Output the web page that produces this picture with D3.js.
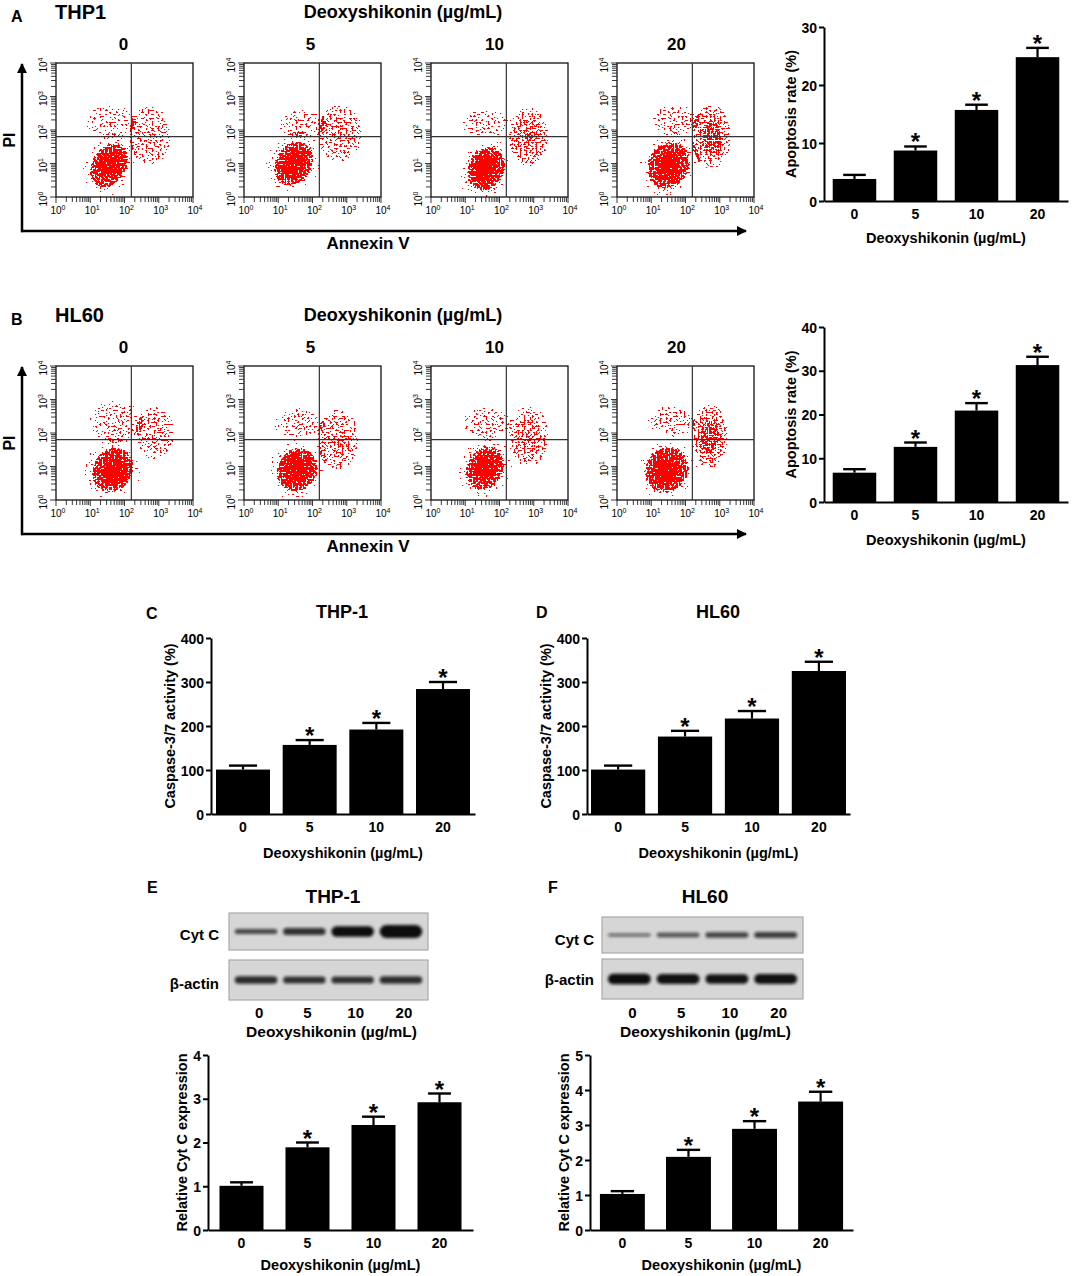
<!DOCTYPE html>
<html>
<head>
<meta charset="utf-8">
<script src="https://cdn.jsdelivr.net/npm/d3@7"></script>
<style>
  body { margin: 0; background: #fff; }
  svg text { font-family: "Liberation Sans", Arial, sans-serif; font-weight: bold; fill: #000; }
</style>
</head>
<body>
<svg id="fig" width="1072" height="1276"></svg>
<script>
// ---- data ----
const doses = ['0', '5', '10', '20']

// apoptosis rate (%) - panels A/B
const thpApop = [3.8, 8.7, 15.7, 24.8]
const thpApopErr = [4.5, 9.4, 16.6, 26.4]
const hlApop = [6.7, 12.6, 20.9, 31.3]
const hlApopErr = [7.5, 13.6, 22.6, 33.2]

// caspase-3/7 activity (%) - panels C/D
const thpCasp = [101, 157, 192, 284]
const thpCaspErr = [110, 168, 207, 300]
const hlCasp = [101, 176, 217, 325]
const hlCaspErr = [110, 189, 234, 346]

// relative Cyt C expression - panels E/F
const thpCyt = [1.01, 1.89, 2.40, 2.92]
const thpCytErr = [1.09, 2.00, 2.59, 3.12]
const hlCyt = [1.03, 2.09, 2.89, 3.67]
const hlCytErr = [1.11, 2.29, 3.11, 3.95]

// western blot band strength (relative)
const thpCytBand = [0.40, 0.55, 0.80, 1.00]
const thpActinBand = [0.58, 0.55, 0.55, 0.57]
const hlCytBand = [0.22, 0.33, 0.42, 0.46]
const hlActinBand = [0.80, 0.76, 0.74, 0.76]

// flow cytometry populations: [log Annexin V, log PI, spread x, spread y, tilt, density]
// rows: live cells, live core, live halo, upper-left population, upper-right apoptotic population
const thpFlow0 = [[1.55, 0.95, 0.5, 0.72, 30, 1.0], [1.6, 1.0, 0.3, 0.42, 30, 0.8], [1.55, 0.95, 0.8, 1.0, 30, 0.5],
  [1.6, 2.25, 0.75, 0.5, 0, 0.57], [2.75, 1.85, 0.62, 0.9, 0, 0.63]]
const thpFlow5 = [[1.45, 1.0, 0.53, 0.7, 30, 1.0], [1.5, 1.0, 0.3, 0.42, 30, 0.8], [1.45, 1.0, 0.82, 0.98, 30, 0.5],
  [1.7, 2.2, 0.7, 0.45, 0, 0.58], [2.8, 1.9, 0.66, 0.85, 0, 0.67]]
const thpFlow10 = [[1.6, 0.85, 0.53, 0.68, 22, 1.0], [1.6, 0.85, 0.3, 0.4, 22, 0.8], [1.6, 0.85, 0.82, 0.96, 22, 0.5],
  [1.6, 2.2, 0.75, 0.4, 0, 0.58], [2.85, 1.8, 0.58, 0.88, 0, 0.71]]
const thpFlow20 = [[1.5, 0.95, 0.6, 0.73, 30, 1.0], [1.5, 0.95, 0.32, 0.42, 30, 0.8], [1.5, 0.95, 0.9, 1.02, 30, 0.5],
  [1.7, 2.3, 0.7, 0.45, 0, 0.59], [2.75, 1.8, 0.58, 0.96, 0, 0.73]]
const hlFlow0 = [[1.65, 0.9, 0.58, 0.7, 30, 1.0], [1.65, 0.85, 0.32, 0.42, 30, 0.8], [1.65, 0.9, 0.88, 0.98, 30, 0.5],
  [1.75, 2.35, 0.8, 0.65, 0, 0.56], [2.9, 2.0, 0.58, 0.8, 0, 0.63]]
const hlFlow5 = [[1.55, 0.9, 0.58, 0.67, 30, 1.0], [1.55, 0.9, 0.32, 0.4, 30, 0.8], [1.55, 0.9, 0.88, 0.95, 30, 0.5],
  [1.6, 2.3, 0.75, 0.45, 0, 0.58], [2.75, 1.8, 0.62, 0.9, 0, 0.67]]
const hlFlow10 = [[1.58, 0.95, 0.53, 0.68, 25, 1.0], [1.58, 0.9, 0.3, 0.4, 25, 0.8], [1.58, 0.95, 0.82, 0.96, 25, 0.5],
  [1.6, 2.3, 0.75, 0.48, 0, 0.58], [2.85, 1.9, 0.6, 0.9, 0, 0.69]]
const hlFlow20 = [[1.45, 0.9, 0.62, 0.7, 30, 1.0], [1.45, 0.85, 0.34, 0.4, 30, 0.8], [1.45, 0.9, 0.92, 0.98, 30, 0.5],
  [1.6, 2.35, 0.7, 0.48, 0, 0.59], [2.7, 1.9, 0.54, 0.96, 0, 0.73]]

const gateAnnexin = 2.2, gatePI = 1.8

const svg = d3.select('#fig')
const defs = svg.append('defs')

// speckle filter: turns a density field into scattered red events
const sp = defs.append('filter').attr('id', 'speck')
  .attr('filterUnits', 'userSpaceOnUse')
  .attr('x', 0).attr('y', 0).attr('width', 1072).attr('height', 1276)
  .attr('color-interpolation-filters', 'sRGB')
sp.append('feTurbulence').attr('type', 'fractalNoise').attr('baseFrequency', 0.5)
  .attr('numOctaves', 1).attr('seed', 11).attr('result', 'noise')
sp.append('feColorMatrix').attr('in', 'noise').attr('type', 'matrix')
  .attr('values', '0 0 0 0 0  0 0 0 0 0  0 0 0 0 0  1 0 0 0 0').attr('result', 'n')
sp.append('feComposite').attr('in', 'SourceGraphic').attr('in2', 'n')
  .attr('operator', 'arithmetic').attr('k1', 0).attr('k2', 0.77).attr('k3', 1).attr('k4', -0.54)
  .attr('result', 'sum')
sp.append('feComponentTransfer').attr('in', 'sum').attr('result', 'thr')
  .append('feFuncA').attr('type', 'discrete').attr('tableValues', '0 1')
sp.append('feFlood').attr('flood-color', '#ff0000').attr('result', 'red')
sp.append('feComposite').attr('in', 'red').attr('in2', 'thr').attr('operator', 'in')

// peaked density for the live population, flat density for the sparse ones
const grad = (id, stops) => {
  const gr = defs.append('radialGradient').attr('id', id)
  stops.forEach(s => gr.append('stop').attr('offset', s[0]).attr('stop-color', '#f00').attr('stop-opacity', s[1]))
}
grad('dens', [[0, 1], [0.35, 0.9], [0.65, 0.68], [0.85, 0.55], [1, 0.4]])
grad('flat', [[0, 1], [0.6, 0.95], [0.85, 0.85], [1, 0.7]])

defs.append('filter').attr('id', 'bandBlur').attr('x', '-30%').attr('y', '-100%')
  .attr('width', '160%').attr('height', '300%')
  .append('feGaussianBlur').attr('stdDeviation', 1.4)

defs.append('marker').attr('id', 'arrow').attr('viewBox', '0 0 10 10')
  .attr('refX', 9).attr('refY', 5).attr('markerWidth', 4.2).attr('markerHeight', 4)
  .attr('orient', 'auto').attr('markerUnits', 'strokeWidth')
  .append('path').attr('d', 'M0,0 L10,5 L0,10 Z').attr('fill', '#000')

const txt = (x, y, s, size, anchor, rot) => {
  const t = svg.append('text').attr('x', x).attr('y', y).style('font-size', size + 'px')
    .attr('text-anchor', anchor || 'start').text(s)
  if (rot) t.attr('transform', `rotate(${rot},${x},${y})`)
  return t
}

// ---- flow cytometry panels ----
const flowCols = [56, 244, 431, 617]
const flowW = 137, flowH = 134
let clipId = 0

function flowPlot(px, py, clusters) {
  const x = d3.scaleLog().domain([1, 1e4]).range([px, px + flowW])
  const y = d3.scaleLog().domain([1, 1e4]).range([py + flowH, py])
  const g = svg.append('g')
  const id = 'fc' + (clipId++)
  defs.append('clipPath').attr('id', id).append('rect')
    .attr('x', px).attr('y', py).attr('width', flowW).attr('height', flowH)

  g.append('g').attr('clip-path', `url(#${id})`)
    .append('g').attr('filter', 'url(#speck)')
    .selectAll('ellipse').data(clusters).join('ellipse')
    .attr('cx', d => x(10 ** d[0]))
    .attr('cy', d => y(10 ** d[1]))
    .attr('rx', d => d[2] * flowW / 4)
    .attr('ry', d => d[3] * flowH / 4)
    .attr('transform', d => `rotate(${d[4]},${x(10 ** d[0])},${y(10 ** d[1])})`)
    .attr('fill', d => d[5] < 0.8 ? 'url(#flat)' : 'url(#dens)')
    .attr('fill-opacity', d => d[5])

  g.append('rect').attr('x', px).attr('y', py).attr('width', flowW).attr('height', flowH)
    .attr('fill', 'none').attr('stroke', '#111').attr('stroke-width', 1.3)
  g.append('line').attr('x1', x(10 ** gateAnnexin)).attr('x2', x(10 ** gateAnnexin))
    .attr('y1', py).attr('y2', py + flowH).attr('stroke', '#333').attr('stroke-width', 1.2)
  g.append('line').attr('x1', px).attr('x2', px + flowW)
    .attr('y1', y(10 ** gatePI)).attr('y2', y(10 ** gatePI)).attr('stroke', '#333').attr('stroke-width', 1.2)

  const major = v => Math.abs(Math.log10(v) - Math.round(Math.log10(v))) < 1e-9
  g.selectAll('line.xt').data(x.ticks()).join('line')
    .attr('x1', d => x(d)).attr('x2', d => x(d))
    .attr('y1', py + flowH).attr('y2', d => py + flowH + (major(d) ? 6 : 5))
    .attr('stroke', '#222').attr('stroke-width', 0.9)
  g.selectAll('line.yt').data(y.ticks()).join('line')
    .attr('y1', d => y(d)).attr('y2', d => y(d))
    .attr('x1', px).attr('x2', d => px - (major(d) ? 6 : 5))
    .attr('stroke', '#222').attr('stroke-width', 0.9)

  const decades = [0, 1, 2, 3, 4]
  g.selectAll('text.xl').data(decades).join('text')
    .attr('x', d => x(10 ** d) + 2).attr('y', py + flowH + 17)
    .attr('text-anchor', 'middle').style('font-size', '10px').style('font-weight', 'normal')
    .text('10').append('tspan').attr('dy', -4).style('font-size', '7px').text(d => d)
  g.selectAll('text.yl').data(decades).join('text')
    .attr('transform', d => `translate(${px - 9},${y(10 ** d) + 2}) rotate(-90)`)
    .attr('text-anchor', 'middle').style('font-size', '10px').style('font-weight', 'normal')
    .text('10').append('tspan').attr('dy', -4).style('font-size', '7px').text(d => d)
}

function flowPanel(oy, letter, cell, sets) {
  txt(11, oy + 22, letter, 16)
  txt(55, oy + 19, cell, 20)
  txt(403, oy + 18, 'Deoxyshikonin (\u00b5g/mL)', 18, 'middle')
  const top = oy + 63
  sets.forEach((s, i) => {
    txt(flowCols[i] + flowW / 2 - [1, 2, 5, 9][i], oy + 50, doses[i], 17, 'middle')
    flowPlot(flowCols[i], top, s)
  })
  const ay = oy + 231
  svg.append('line').attr('x1', 22).attr('y1', ay + 1.2).attr('x2', 22).attr('y2', top + 1)
    .attr('stroke', '#000').attr('stroke-width', 2.5).attr('marker-end', 'url(#arrow)')
  svg.append('line').attr('x1', 21).attr('y1', ay).attr('x2', 746).attr('y2', ay)
    .attr('stroke', '#000').attr('stroke-width', 2.5).attr('marker-end', 'url(#arrow)')
  txt(15, oy + 140, 'PI', 16, 'middle', -90)
  txt(368, oy + 249, 'Annexin V', 17, 'middle')
}

flowPanel(0, 'A', 'THP1', [thpFlow0, thpFlow5, thpFlow10, thpFlow20])
flowPanel(303, 'B', 'HL60', [hlFlow0, hlFlow5, hlFlow10, hlFlow20])

// ---- bar charts ----
function barChart(o) {
  const g = svg.append('g')
  const x = d3.scaleBand().domain(doses).range([o.x0, o.x1])
    .paddingInner(o.pi).paddingOuter(o.po)
  const y = d3.scaleLinear().domain([0, o.max]).range([o.yb, o.yt])
  const bw = x.bandwidth()
  const cx = d => x(d) + bw / 2

  g.selectAll('rect').data(o.vals).join('rect')
    .attr('x', (d, i) => x(doses[i])).attr('y', d => y(d))
    .attr('width', bw).attr('height', d => y(0) - y(d)).attr('fill', '#000')
  g.selectAll('line.w').data(o.errs).join('line')
    .attr('x1', (d, i) => cx(doses[i])).attr('x2', (d, i) => cx(doses[i]))
    .attr('y1', (d, i) => y(o.vals[i])).attr('y2', d => y(d))
    .attr('stroke', '#000').attr('stroke-width', 2.2)
  g.selectAll('line.c').data(o.errs).join('line')
    .attr('x1', (d, i) => cx(doses[i]) - bw * 0.26).attr('x2', (d, i) => cx(doses[i]) + bw * 0.26)
    .attr('y1', d => y(d)).attr('y2', d => y(d))
    .attr('stroke', '#000').attr('stroke-width', 2.4)
  g.selectAll('text.star').data(o.errs.slice(1)).join('text')
    .attr('x', (d, i) => cx(doses[i + 1])).attr('y', d => y(d) + 4)
    .attr('text-anchor', 'middle').style('font-size', '24px').text('*')

  const ya = g.append('g').attr('transform', `translate(${o.x0},0)`)
    .call(d3.axisLeft(y).tickValues(o.ticks).tickFormat(d3.format('d'))
      .tickSize(5).tickSizeOuter(0).tickPadding(2))
  const xa = g.append('g').attr('transform', `translate(0,${o.yb})`)
    .call(d3.axisBottom(x).tickSize(0).tickSizeOuter(0))
  ;[ya, xa].forEach(a => {
    a.attr('font-family', null).attr('font-size', null)
    a.selectAll('path').attr('stroke', '#000').attr('stroke-width', 2)
    a.selectAll('line').attr('stroke', '#000').attr('stroke-width', 2)
    a.selectAll('text').style('font-size', '14px').attr('fill', '#000')
  })
  ya.selectAll('text').attr('dy', '0.36em')
  xa.selectAll('text').attr('dy', 0).attr('y', 18)

  txt(o.ytx, (o.yb + o.yt) / 2, o.ytitle, 14.5, 'middle', -90)
  txt((o.x0 + o.x1) / 2, o.xty, 'Deoxyshikonin (\u00b5g/mL)', 14.5, 'middle')
}

barChart({ x0: 824, x1: 1068, pi: 0.287, po: 0.143, yb: 201, yt: 27, max: 30, ticks: [0, 10, 20, 30],
  vals: thpApop, errs: thpApopErr, ytitle: 'Apoptosis rate (%)', ytx: 796, xty: 243 })
barChart({ x0: 824, x1: 1068, pi: 0.287, po: 0.143, yb: 502, yt: 327, max: 40, ticks: [0, 10, 20, 30, 40],
  vals: hlApop, errs: hlApopErr, ytitle: 'Apoptosis rate (%)', ytx: 796, xty: 545 })

txt(146, 619, 'C', 16)
txt(342, 618, 'THP-1', 18, 'middle')
barChart({ x0: 211, x1: 475, pi: 0.19, po: 0.075, yb: 814, yt: 638, max: 400, ticks: [0, 100, 200, 300, 400],
  vals: thpCasp, errs: thpCaspErr, ytitle: 'Caspase-3/7 activity (%)', ytx: 175, xty: 858 })
txt(536, 618, 'D', 16)
txt(718, 618, 'HL60', 18, 'middle')
barChart({ x0: 587, x1: 850, pi: 0.19, po: 0.06, yb: 814, yt: 638, max: 400, ticks: [0, 100, 200, 300, 400],
  vals: hlCasp, errs: hlCaspErr, ytitle: 'Caspase-3/7 activity (%)', ytx: 551, xty: 858 })

// ---- western blots ----
function blot(o) {
  const lanes = d3.scaleBand().domain(doses).range([o.x0, o.x1]).paddingInner(0.12).paddingOuter(0.12)
  const rows = [[o.cytY, o.cytBand, 'Cyt C', o.cytLab], [o.actY, o.actBand, '\u03b2-actin', o.actLab]]
  rows.forEach(r => {
    svg.append('rect').attr('x', o.x0).attr('y', r[0][0]).attr('width', o.x1 - o.x0)
      .attr('height', r[0][1] - r[0][0]).attr('fill', '#d6d6d6').attr('stroke', '#a9a9a9').attr('stroke-width', 1.2)
    const mid = (r[0][0] + r[0][1]) / 2
    svg.append('g').attr('filter', 'url(#bandBlur)')
      .selectAll('rect').data(r[1]).join('rect')
      .attr('x', (d, i) => lanes(doses[i])).attr('width', lanes.bandwidth())
      .attr('y', d => mid - 6.5 * d).attr('height', d => 13 * d)
      .attr('rx', d => Math.max(2, 6.5 * d)).attr('fill', '#111')
      .attr('fill-opacity', d => Math.min(1, 0.45 + 0.7 * d))
    txt(o.labX, r[3], r[2], 15, 'end')
  })
  svg.selectAll(null).data(doses).join('text').attr('class', 'lane')
    .attr('x', d => lanes(d) + lanes.bandwidth() / 2 + 3).attr('y', 1018)
    .attr('text-anchor', 'middle').style('font-size', '15px').text(d => d)
  txt((o.x0 + o.x1) / 2 + 3, 1037, 'Deoxyshikonin (\u00b5g/mL)', 15.5, 'middle')
}

txt(147, 893, 'E', 16)
txt(333, 903, 'THP-1', 19, 'middle')
blot({ x0: 229, x1: 428, cytY: [913, 950], actY: [960, 1000], cytBand: thpCytBand, actBand: thpActinBand,
  labX: 219, cytLab: 940, actLab: 989 })
txt(548, 893, 'F', 16)
txt(705, 903, 'HL60', 19, 'middle')
blot({ x0: 602, x1: 803, cytY: [917, 953], actY: [959, 999], cytBand: hlCytBand, actBand: hlActinBand,
  labX: 594, cytLab: 945, actLab: 985 })

barChart({ x0: 208, x1: 473, pi: 0.333, po: 0.174, yb: 1230, yt: 1055, max: 4, ticks: [0, 1, 2, 3, 4],
  vals: thpCyt, errs: thpCytErr, ytitle: 'Relative Cyt C expression', ytx: 187, xty: 1270 })
barChart({ x0: 590, x1: 853, pi: 0.32, po: 0.15, yb: 1230, yt: 1055, max: 5, ticks: [0, 1, 2, 3, 4, 5],
  vals: hlCyt, errs: hlCytErr, ytitle: 'Relative Cyt C expression', ytx: 569, xty: 1270 })
</script>
</body>
</html>
